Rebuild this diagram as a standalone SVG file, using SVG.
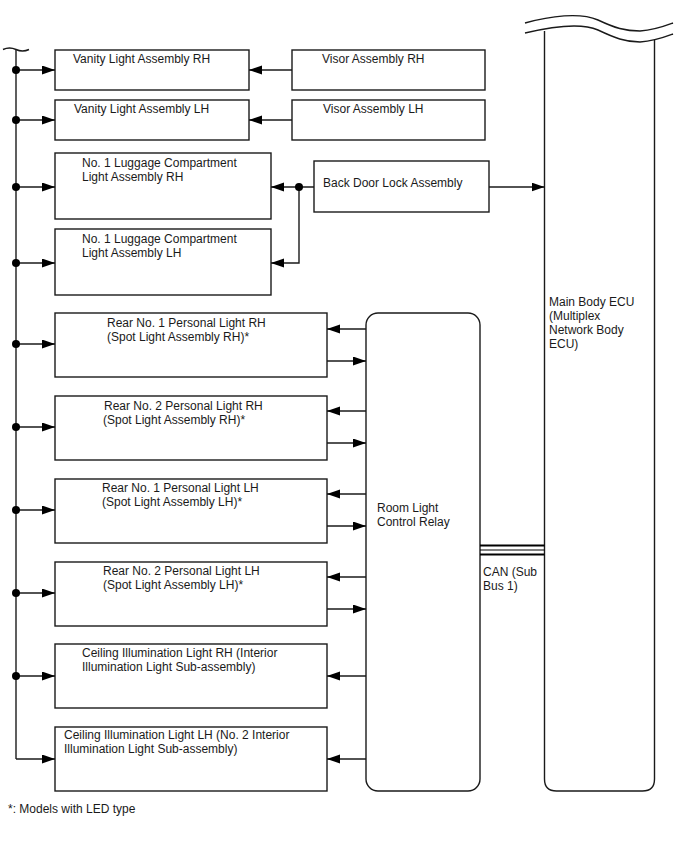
<svg xmlns="http://www.w3.org/2000/svg" width="688" height="852" viewBox="0 0 688 852">
<style>
.box{fill:#fff;stroke:#1a1a1a;stroke-width:1.4}
.ln{fill:none;stroke:#1a1a1a;stroke-width:1.4}
.arr{fill:none;stroke:#1a1a1a;stroke-width:1.4;marker-end:url(#ah)}
.dot{fill:#000}
text{font-family:"Liberation Sans",Arial,sans-serif;font-size:12px;fill:#1a1a1a}
</style>
<defs>
<marker id="ah" markerUnits="userSpaceOnUse" markerWidth="13" markerHeight="10" refX="13" refY="4.5" orient="auto">
<path d="M0,0 L13,4.5 L0,9 z" fill="#000"/>
</marker>
</defs>
<rect width="688" height="852" fill="#fff"/>

<g id="main-body-ecu">
<path class="ln" d="M544.5,31 V779 Q544.5,791 556.5,791 H642.5 Q654.5,791 654.5,779 V40"/>
<path class="ln" d="M525,23 C550,16 580,12 598,20 C615,28 625,31 640,31 C655,30 665,26 673,23"/>
<path class="ln" d="M525,33 C550,27 580,22 598,30 C615,38 625,42 640,42 C655,41 665,37 673,34"/>
<text x="549" y="306">Main Body ECU</text>
<text x="549" y="320">(Multiplex</text>
<text x="549" y="334">Network Body</text>
<text x="549" y="348">ECU)</text>
</g>

<g id="room-light-control-relay">
<rect class="box" x="366" y="313" width="114" height="478" rx="12"/>
<text x="377" y="512">Room Light</text>
<text x="377" y="526">Control Relay</text>
</g>

<g id="vanity-rh"><rect class="box" x="55" y="50" width="194" height="40"/><text x="73" y="63">Vanity Light Assembly RH</text></g>
<g id="vanity-lh"><rect class="box" x="55" y="100" width="194" height="40"/><text x="74" y="113">Vanity Light Assembly LH</text></g>
<g id="visor-rh"><rect class="box" x="292" y="50" width="193" height="40"/><text x="322" y="63">Visor Assembly RH</text></g>
<g id="visor-lh"><rect class="box" x="292" y="100" width="193" height="40"/><text x="323" y="113">Visor Assembly LH</text></g>
<g id="back-door-lock"><rect class="box" x="314" y="161" width="175" height="51"/><text x="323" y="187">Back Door Lock Assembly</text></g>
<g id="luggage-rh"><rect class="box" x="55" y="153" width="216" height="66"/><text x="82" y="167">No. 1 Luggage Compartment</text><text x="82" y="181">Light Assembly RH</text></g>
<g id="luggage-lh"><rect class="box" x="55" y="229" width="216" height="66"/><text x="82" y="243">No. 1 Luggage Compartment</text><text x="82" y="257">Light Assembly LH</text></g>
<g id="personal-rh-1"><rect class="box" x="55" y="313" width="272" height="64"/><text x="107" y="327">Rear No. 1 Personal Light RH</text><text x="107" y="341">(Spot Light Assembly RH)*</text></g>
<g id="personal-rh-2"><rect class="box" x="55" y="396" width="272" height="64"/><text x="104" y="410">Rear No. 2 Personal Light RH</text><text x="103" y="424">(Spot Light Assembly RH)*</text></g>
<g id="personal-lh-1"><rect class="box" x="55" y="479" width="272" height="64"/><text x="102" y="492">Rear No. 1 Personal Light LH</text><text x="102" y="506">(Spot Light Assembly LH)*</text></g>
<g id="personal-lh-2"><rect class="box" x="55" y="562" width="272" height="64"/><text x="103" y="575">Rear No. 2 Personal Light LH</text><text x="103" y="589">(Spot Light Assembly LH)*</text></g>
<g id="ceiling-rh"><rect class="box" x="55" y="644" width="272" height="64"/><text x="82" y="657">Ceiling Illumination Light RH (Interior</text><text x="82" y="671">Illumination Light Sub-assembly)</text></g>
<g id="ceiling-lh"><rect class="box" x="55" y="727" width="272" height="64"/><text x="64" y="739">Ceiling Illumination Light LH (No. 2 Interior</text><text x="64" y="753">Illumination Light Sub-assembly)</text></g>

<g id="connectors">
<path class="ln" d="M3,49.5 q6.5,-3 13,0 t13,0"/>
<path class="ln" d="M16,50 V759"/>
<path class="arr" d="M16,70 H55"/>
<path class="arr" d="M16,120 H55"/>
<path class="arr" d="M16,187 H55"/>
<path class="arr" d="M16,263 H55"/>
<path class="arr" d="M16,344 H55"/>
<path class="arr" d="M16,427 H55"/>
<path class="arr" d="M16,510 H55"/>
<path class="arr" d="M16,593 H55"/>
<path class="arr" d="M16,676 H55"/>
<path class="arr" d="M16,759 H55"/>
<circle class="dot" cx="16" cy="70" r="4"/>
<circle class="dot" cx="16" cy="120" r="4"/>
<circle class="dot" cx="16" cy="187" r="4"/>
<circle class="dot" cx="16" cy="263" r="4"/>
<circle class="dot" cx="16" cy="344" r="4"/>
<circle class="dot" cx="16" cy="427" r="4"/>
<circle class="dot" cx="16" cy="510" r="4"/>
<circle class="dot" cx="16" cy="593" r="4"/>
<circle class="dot" cx="16" cy="676" r="4"/>

<path class="arr" d="M292,70 H249"/>
<path class="arr" d="M292,120 H249"/>

<path class="arr" d="M314,187 H271"/>
<path class="arr" d="M299,187 V263 H271"/>
<circle class="dot" cx="299" cy="187" r="4"/>
<path class="arr" d="M489,187 H544.5"/>

<path class="arr" d="M366,329 H327"/>
<path class="arr" d="M327,361 H366"/>
<path class="arr" d="M366,411 H327"/>
<path class="arr" d="M327,443 H366"/>
<path class="arr" d="M366,494 H327"/>
<path class="arr" d="M327,526 H366"/>
<path class="arr" d="M366,577 H327"/>
<path class="arr" d="M327,609 H366"/>
<path class="arr" d="M366,676 H327"/>
<path class="arr" d="M366,759 H327"/>

<g id="can-bus">
<path d="M480,545.5 H544.5" stroke="#000" stroke-width="2"/>
<path d="M480,550 H544.5" stroke="#000" stroke-width="1.2"/>
<path d="M480,554.5 H544.5" stroke="#000" stroke-width="2"/>
</g>
</g>
<text x="483" y="576">CAN (Sub</text>
<text x="483" y="590">Bus 1)</text>
<text x="8" y="813">*: Models with LED type</text>
</svg>
